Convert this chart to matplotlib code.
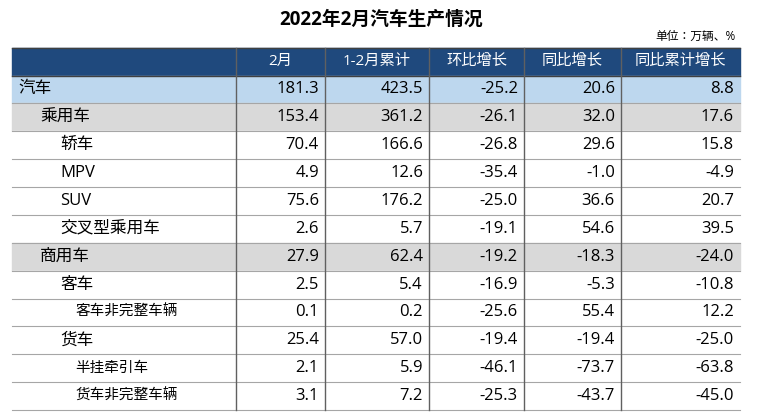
import matplotlib.pyplot as plt
from matplotlib.patches import Rectangle

plt.rcParams['font.family'] = ['Open Sans', 'Noto Sans CJK JP', 'DejaVu Sans']

headers = ['2月', '1-2月累计', '环比增长', '同比增长', '同比累计增长']
names = ['汽车', '乘用车', '轿车', 'MPV', 'SUV', '交叉型乘用车', '商用车', '客车',
         '客车非完整车辆', '货车', '半挂牵引车', '货车非完整车辆']
levels = [0, 1, 2, 2, 2, 2, 1, 2, 3, 2, 3, 3]
feb = [181.3, 153.4, 70.4, 4.9, 75.6, 2.6, 27.9, 2.5, 0.1, 25.4, 2.1, 3.1]
cum = [423.5, 361.2, 166.6, 12.6, 176.2, 5.7, 62.4, 5.4, 0.2, 57.0, 5.9, 7.2]
mom = [-25.2, -26.1, -26.8, -35.4, -25.0, -19.1, -19.2, -16.9, -25.6, -19.4, -46.1, -25.3]
yoy = [20.6, 32.0, 29.6, -1.0, 36.6, 54.6, -18.3, -5.3, 55.4, -19.4, -73.7, -43.7]
yoy_cum = [8.8, 17.6, 15.8, -4.9, 20.7, 39.5, -24.0, -10.8, 12.2, -25.0, -63.8, -45.0]

W, H = 763, 417
fig = plt.figure(figsize=(W / 100, H / 100), dpi=100)
ax = fig.add_axes([0, 0, 1, 1])
ax.set_xlim(0, W)
ax.set_ylim(H, 0)
ax.axis('off')

xs = [12, 236, 325, 429, 524, 621, 740]
top, hh = 48, 27.5
rh = (410 - top - hh) / len(names)
indent = [18, 40, 60, 75]

ax.text(381, 20, '2022年2月汽车生产情况', ha='center', va='center', fontsize=13.5, fontweight='bold')
ax.text(736, 36, '单位：万辆、%', ha='right', va='center', fontsize=8.5)

ax.add_patch(Rectangle((xs[0], top), xs[-1] - xs[0], hh, color='#1f497d'))
for i, h in enumerate(headers):
    ax.text((xs[i + 1] + xs[i + 2]) / 2, top + hh / 2, h, ha='center', va='center', color='white', fontsize=11)

cols = [feb, cum, mom, yoy, yoy_cum]
for r, name in enumerate(names):
    y0 = top + hh + r * rh
    if levels[r] == 0:
        bg = '#bdd7ee'
    elif levels[r] == 1:
        bg = '#d9d9d9'
    else:
        bg = 'white'
    ax.add_patch(Rectangle((xs[0], y0), xs[-1] - xs[0], rh, color=bg))
    ax.plot([xs[0], xs[-1]], [y0 + rh, y0 + rh], color='#a6a6a6', lw=0.8)
    fs = 10.5 if levels[r] == 3 else 12
    ax.text(indent[levels[r]], y0 + rh / 2, name, ha='left', va='center', fontsize=fs)
    for c, vals in enumerate(cols):
        ax.text(xs[c + 2] - 6, y0 + rh / 2, f'{vals[r]:.1f}', ha='right', va='center', fontsize=12)

ax.plot([xs[0], xs[-1]], [top, top], color='#404040', lw=1)
ax.plot([xs[0], xs[-1]], [top + hh, top + hh], color='#404040', lw=1)
for x in xs[1:-1]:
    ax.plot([x, x], [top, 410], color='#606060', lw=1)

fig.savefig('out.png', dpi=100)
